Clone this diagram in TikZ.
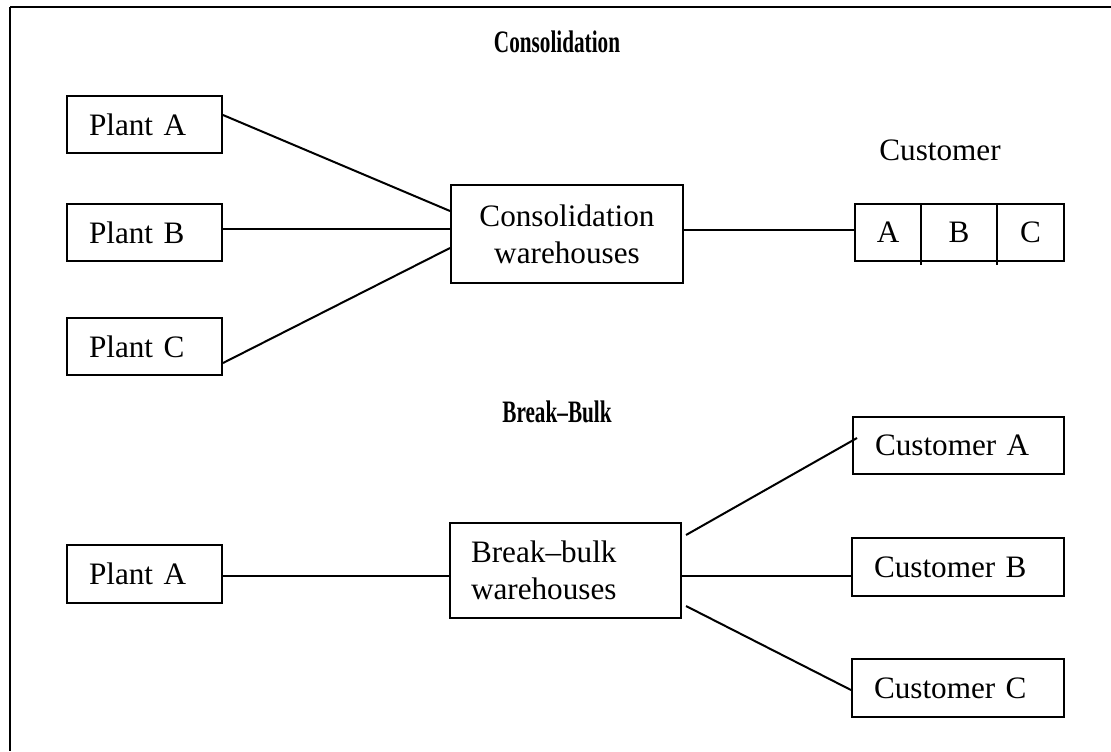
\documentclass[tikz,border=0pt]{standalone}
\usepackage{fontspec}
\setmainfont{Liberation Serif}
\begin{document}
\begin{tikzpicture}[x=0.5pt,y=-0.5pt,
  line width=1pt,
  body/.style={font=\fontsize{15.6}{18.5}\selectfont},
  ttl/.style={font=\fontsize{15.6}{18.5}\selectfont\bfseries},
  lbox/.style={draw,rectangle,body,inner ysep=0pt,inner xsep=11pt,align=left,minimum height=28.5pt},
  cbox/.style={draw,rectangle,body,inner sep=0pt,align=center},
  conn/.style={line width=1pt}]
\useasboundingbox (0,0) rectangle (1111,751);
\draw[line width=1.3pt] (10,7) coordinate (bl) -- (1111,7) coordinate (br);
\draw[line width=1.2pt] (bl) -- (10,751) coordinate (bb0);

\node[ttl] (t1) at (557,42) {\scalebox{0.68}[1]{Consolidation}};
\node[ttl] (t2) at (557,412) {\scalebox{0.68}[1]{Break--Bulk}};

\node[lbox,text width=55.5pt] (pa) at (144.5,124.5) {Plant A};
\node[lbox,text width=55.5pt] (pb) at (144.5,232.5) {Plant B};
\node[lbox,text width=55.5pt] (pc) at (144.5,346.5) {Plant C};
\node[cbox,minimum width=116pt,minimum height=49pt] (cw) at (567,234) {Consolidation\\warehouses};

\node[body] (cust) at (940,150) {Customer};
\node[draw,rectangle,inner sep=0pt,minimum width=104.5pt,minimum height=28.5pt] (abc) at (959.5,232.5) {};
\node[body] (ca1) at (888,232.5) {A};
\node[body] (cb1) at (959,232.5) {B};
\node[body] (cc1) at (1030.5,232.5) {C};
\draw (921,204) coordinate (d1t) -- (921,265) coordinate (d1b);
\draw (997,204) coordinate (d2t) -- (997,265) coordinate (d2b);

\draw[conn] ([yshift=4.75pt]pa.east) -- ([yshift=11.5pt]cw.west);
\draw[conn] ([yshift=1.75pt]pb.east) -- ([yshift=2.5pt]cw.west);
\draw[conn] ([yshift=-8.25pt]pc.east) -- ([yshift=-7pt]cw.west);
\draw[conn] ([yshift=2pt]cw.east) -- ([yshift=1.25pt]abc.west);

\node[lbox,text width=55.5pt,minimum height=29pt] (pa2) at (144.5,574) {Plant A};
\node[draw,rectangle,body,inner ysep=0pt,inner xsep=10.5pt,text width=94.5pt,align=left,minimum height=47.5pt] (bw) at (565.5,570.5) {Break--bulk\\warehouses};

\node[lbox,text width=83.5pt] (ca) at (958.5,445.5) {Customer A};
\node[lbox,text width=84pt,minimum height=29pt] (cb) at (958,567) {Customer B};
\node[lbox,text width=84pt,minimum height=29pt] (cc) at (958,688) {Customer C};

\draw[conn] ([yshift=-1pt]pa2.east) -- ([yshift=-2.75pt]bw.west);
\draw[conn] ([xshift=2pt,yshift=17.75pt]bw.east) -- ([xshift=2.5pt,yshift=3.75pt]ca.west);
\draw[conn] ([yshift=-2.75pt]bw.east) -- ([yshift=-4.5pt]cb.west);
\draw[conn] ([xshift=2pt,yshift=-17.75pt]bw.east) -- ([yshift=-1pt]cc.west);
\end{tikzpicture}
\end{document}
